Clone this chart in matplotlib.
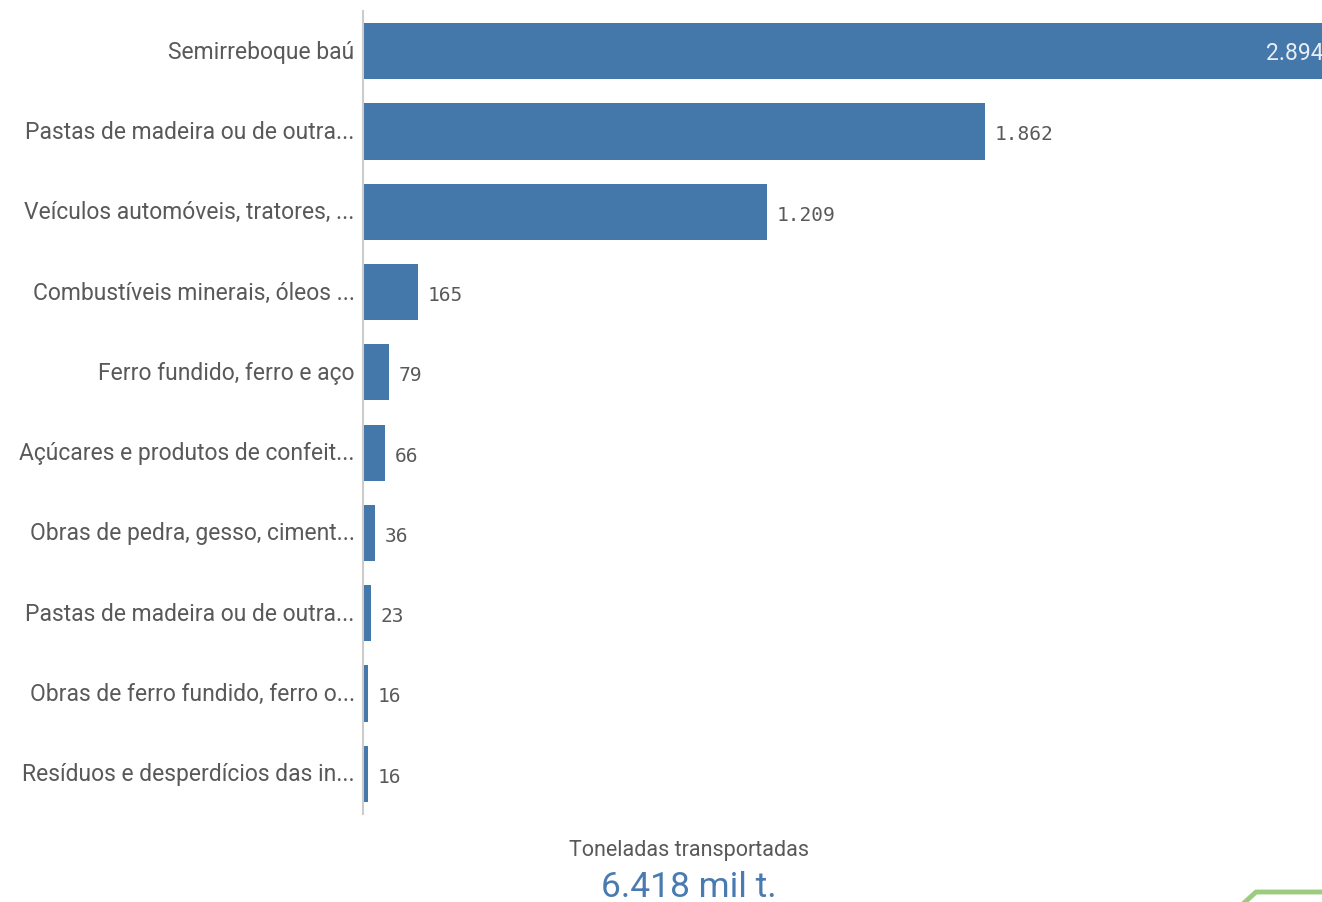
import matplotlib.pyplot as plt
from matplotlib.lines import Line2D

# categories and tonnage (thousand t)
categories = ["Semirreboque baú", "Pastas de madeira ou de outra...",
              "Veículos automóveis, tratores, ...", "Combustíveis minerais, óleos ...",
              "Ferro fundido, ferro e aço", "Açúcares e produtos de confeit...",
              "Obras de pedra, gesso, ciment...", "Pastas de madeira ou de outra...",
              "Obras de ferro fundido, ferro o...", "Resíduos e desperdícios das in..."]
values = [2894, 1862, 1209, 165, 79, 66, 36, 23, 16, 16]
total_label = "6.418 mil t."
kpi_title = "Toneladas transportadas"

bar_color = "#4477aa"
text_gray = "#595959"

fig = plt.figure(figsize=(13.22, 9.03), dpi=100)
ax = fig.add_axes([363 / 1322, 1 - 815 / 903, 1 - 363 / 1322, (815 - 12) / 903])

ypos = list(range(len(categories)))
ax.barh(ypos, values, height=0.7, color=bar_color)
ax.set_xlim(0, 2871)
ax.set_ylim(len(categories) - 0.5, -0.5)

ax.set_yticks(ypos)
ax.set_yticklabels(categories, fontsize=16.5, color=text_gray, family="Roboto",
                   va="center")
ax.tick_params(axis="y", length=0, pad=6)
ax.set_xticks([])

for s in ["top", "right", "bottom"]:
    ax.spines[s].set_visible(False)
ax.spines["left"].set_color("#cccccc")
ax.spines["left"].set_linewidth(1.5)

# value labels
xmax = ax.get_xlim()[1]
for y, v in zip(ypos, values):
    txt = f"{v:,}".replace(",", ".")
    if v > xmax:
        # too long: label sits inside the bar, cut by the figure edge
        ax.text(xmax + 6, y + 0.02, txt, ha="right", va="center", fontsize=16.5,
                color="#e8eef5", family="Roboto", clip_on=False)
    else:
        ax.text(v + 28, y + 0.03, txt, ha="left", va="center", fontsize=14,
                color=text_gray, family="DejaVu Sans Mono")

# KPI at the bottom
fig.text(689 / 1322, 1 - 851 / 903, kpi_title, ha="center", va="center",
         fontsize=15.5, color=text_gray, family="Roboto")
fig.text(689 / 1322, 1 - 888 / 903, total_label, ha="center", va="center",
         fontsize=25.5, color="#4a7bb0", family="Roboto")

# green corner decoration
fig.add_artist(Line2D([1245 / 1322, 1256 / 1322, 1.0],
                      [0.0, 1 - 893 / 903, 1 - 893 / 903],
                      transform=fig.transFigure, color="#9dcc80", linewidth=3.5))

fig.savefig("out.png", dpi=100)
